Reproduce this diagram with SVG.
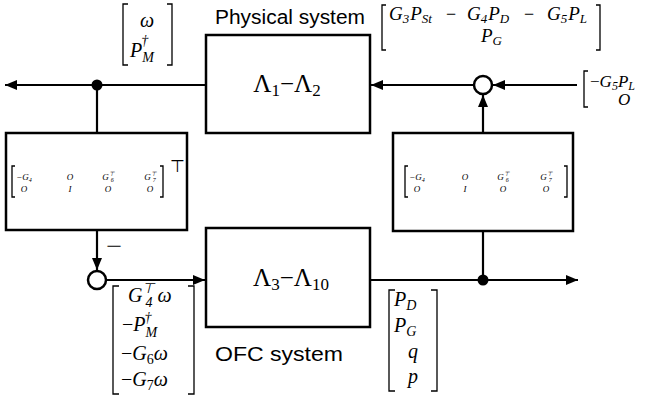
<svg xmlns="http://www.w3.org/2000/svg" width="667" height="398" viewBox="0 0 667 398">
<style>
.box{fill:#fff;stroke:#000;stroke-width:2.5}
.ln{fill:none;stroke:#000;stroke-width:2.2}
.br{fill:none;stroke:#000;stroke-width:1.3}
.m{font-family:"Liberation Serif",serif;font-style:italic;fill:#000}
.r{font-family:"Liberation Serif",serif;font-style:normal;fill:#000}
.lbl{font-family:"Liberation Sans",Arial,sans-serif;font-size:20px;fill:#000}
.dot{fill:#000}
.sum{fill:#fff;stroke:#000;stroke-width:2.5}
</style>
<defs>
<marker id="ah" viewBox="0 0 12 10" refX="12" refY="5" markerWidth="12" markerHeight="10" markerUnits="userSpaceOnUse" orient="auto">
<path d="M0,0 L12,5 L0,10 Z" fill="#000"/>
</marker>
</defs>

<g id="connectors">
<line class="ln" x1="206" y1="85" x2="5" y2="85" marker-end="url(#ah)"/>
<line class="ln" x1="97" y1="85" x2="97" y2="133"/>
<line class="ln" x1="474" y1="85" x2="371" y2="85" marker-end="url(#ah)"/>
<line class="ln" x1="577" y1="85" x2="493" y2="85" marker-end="url(#ah)"/>
<line class="ln" x1="483" y1="133" x2="483" y2="95" marker-end="url(#ah)"/>
<line class="ln" x1="97" y1="230" x2="97" y2="270" marker-end="url(#ah)"/>
<line class="ln" x1="106" y1="280" x2="205" y2="280" marker-end="url(#ah)"/>
<line class="ln" x1="370" y1="280" x2="578" y2="280" marker-end="url(#ah)"/>
<line class="ln" x1="483" y1="231" x2="483" y2="280"/>
<circle class="dot" cx="97" cy="85" r="5.5"/>
<circle class="dot" cx="483" cy="280" r="5.5"/>
<text class="r" x="106" y="252" font-size="18" textLength="16" lengthAdjust="spacingAndGlyphs">−</text>
</g>

<g id="sum-top">
<circle class="sum" cx="483" cy="85" r="9"/>
</g>
<g id="sum-bottom">
<circle class="sum" cx="97" cy="280" r="9"/>
</g>

<g id="physical">
<rect class="box" x="206" y="35" width="164" height="98"/>
<text class="r" x="287" y="92" font-size="25" text-anchor="middle">Λ<tspan font-size="17" dy="4">1</tspan><tspan dy="-4">−Λ</tspan><tspan font-size="17" dy="4">2</tspan></text>
<text class="lbl" x="215" y="24" textLength="150" lengthAdjust="spacingAndGlyphs">Physical system</text>
</g>

<g id="ofc">
<rect class="box" x="206" y="228" width="164" height="99"/>
<text class="r" x="291" y="286" font-size="25" text-anchor="middle">Λ<tspan font-size="17" dy="4">3</tspan><tspan dy="-4">−Λ</tspan><tspan font-size="17" dy="4">10</tspan></text>
<text class="lbl" x="215" y="361" textLength="128" lengthAdjust="spacingAndGlyphs">OFC system</text>
</g>

<g id="feedback-left">
<rect class="box" x="6" y="133" width="181" height="97"/>
<path class="br" d="M15,166 H12 V197 H15"/>
<path class="br" d="M160,166 H163 V197 H160"/>
<g class="m" font-size="9" text-anchor="middle">
<text x="24" y="180">−<tspan>G</tspan><tspan font-size="6" dy="1.5">4</tspan></text>
<text x="70" y="180">O</text>
<text x="108" y="180">G<tspan font-size="6" dy="-4">⊤</tspan><tspan font-size="6" dx="-3" dy="6">6</tspan></text>
<text x="150" y="180">G<tspan font-size="6" dy="-4">⊤</tspan><tspan font-size="6" dx="-3" dy="6">7</tspan></text>
<text x="24" y="192">O</text>
<text x="70" y="192">I</text>
<text x="108" y="192">O</text>
<text x="150" y="192">O</text>
</g>
<text class="r" x="170" y="172" font-size="17">⊤</text>
</g>

<g id="feedback-right">
<rect class="box" x="393" y="133" width="180" height="98"/>
<path class="br" d="M408,166 H405 V197 H408"/>
<path class="br" d="M564,166 H567 V197 H564"/>
<g class="m" font-size="9" text-anchor="middle">
<text x="417" y="180">−<tspan>G</tspan><tspan font-size="6" dy="1.5">4</tspan></text>
<text x="465" y="180">O</text>
<text x="503" y="180">G<tspan font-size="6" dy="-4">⊤</tspan><tspan font-size="6" dx="-3" dy="6">6</tspan></text>
<text x="546" y="180">G<tspan font-size="6" dy="-4">⊤</tspan><tspan font-size="6" dx="-3" dy="6">7</tspan></text>
<text x="417" y="192">O</text>
<text x="465" y="192">I</text>
<text x="503" y="192">O</text>
<text x="546" y="192">O</text>
</g>
</g>

<g id="label-omega">
<path class="br" d="M128,4 H123 V65 H128"/>
<path class="br" d="M167,4 H172 V65 H167"/>
<text class="m" x="147" y="27" font-size="20" text-anchor="middle">ω</text>
<text class="m" x="130" y="57" font-size="20">P<tspan font-size="14" dy="-12" dx="-1">†</tspan><tspan font-size="14" dx="-6" dy="17">M</tspan></text>
</g>

<g id="label-top-right">
<path class="br" d="M386,5 H382 V50 H386"/>
<path class="br" d="M596,5 H600 V50 H596"/>
<text class="m" x="389" y="20" font-size="19">G<tspan font-size="13" dy="3">3</tspan><tspan dy="-3" dx="1">P</tspan><tspan font-size="13" dy="3">St</tspan></text>
<text class="r" x="446" y="20" font-size="18">−</text>
<text class="m" x="467" y="20" font-size="19">G<tspan font-size="13" dy="3">4</tspan><tspan dy="-3" dx="1">P</tspan><tspan font-size="13" dy="3">D</tspan></text>
<text class="r" x="524" y="20" font-size="18">−</text>
<text class="m" x="547" y="20" font-size="19">G<tspan font-size="13" dy="3">5</tspan><tspan dy="-3" dx="1">P</tspan><tspan font-size="13" dy="3">L</tspan></text>
<text class="m" x="481" y="42" font-size="19">P<tspan font-size="13" dy="3">G</tspan></text>
</g>

<g id="label-disturbance">
<path class="br" d="M588,71 H584 V107 H588"/>
<text class="m" x="590" y="87" font-size="17"><tspan class="r">−</tspan>G<tspan font-size="12" dy="3">5</tspan><tspan dy="-3">P</tspan><tspan font-size="12" dy="3">L</tspan></text>
<text class="m" x="618" y="105" font-size="17">O</text>
</g>

<g id="label-ofc-in">
<path class="br" d="M119,286 H113 V394 H119"/>
<path class="br" d="M188,286 H194 V394 H188"/>
<text class="m" x="128" y="302" font-size="20">G<tspan font-size="14" dy="-9">⊤</tspan><tspan font-size="14" dx="-9" dy="14">4</tspan><tspan dx="5" dy="-5">ω</tspan></text>
<text class="m" x="122" y="331" font-size="20"><tspan class="r">−</tspan>P<tspan font-size="14" dy="-9" dx="-1">†</tspan><tspan font-size="14" dx="-6" dy="15">M</tspan></text>
<text class="m" x="121" y="360" font-size="20"><tspan class="r">−</tspan>G<tspan class="r" font-size="14" dy="4">6</tspan><tspan dy="-4">ω</tspan></text>
<text class="m" x="121" y="386" font-size="20"><tspan class="r">−</tspan>G<tspan class="r" font-size="14" dy="4">7</tspan><tspan dy="-4">ω</tspan></text>
</g>

<g id="label-ofc-out">
<path class="br" d="M395,290 H389 V391 H395"/>
<path class="br" d="M431,290 H437 V391 H431"/>
<text class="m" x="394" y="306" font-size="20">P<tspan font-size="14" dy="4">D</tspan></text>
<text class="m" x="394" y="332" font-size="20">P<tspan font-size="14" dy="4">G</tspan></text>
<text class="m" x="413" y="358" font-size="20" text-anchor="middle">q</text>
<text class="m" x="413" y="383" font-size="20" text-anchor="middle">p</text>
</g>
</svg>
